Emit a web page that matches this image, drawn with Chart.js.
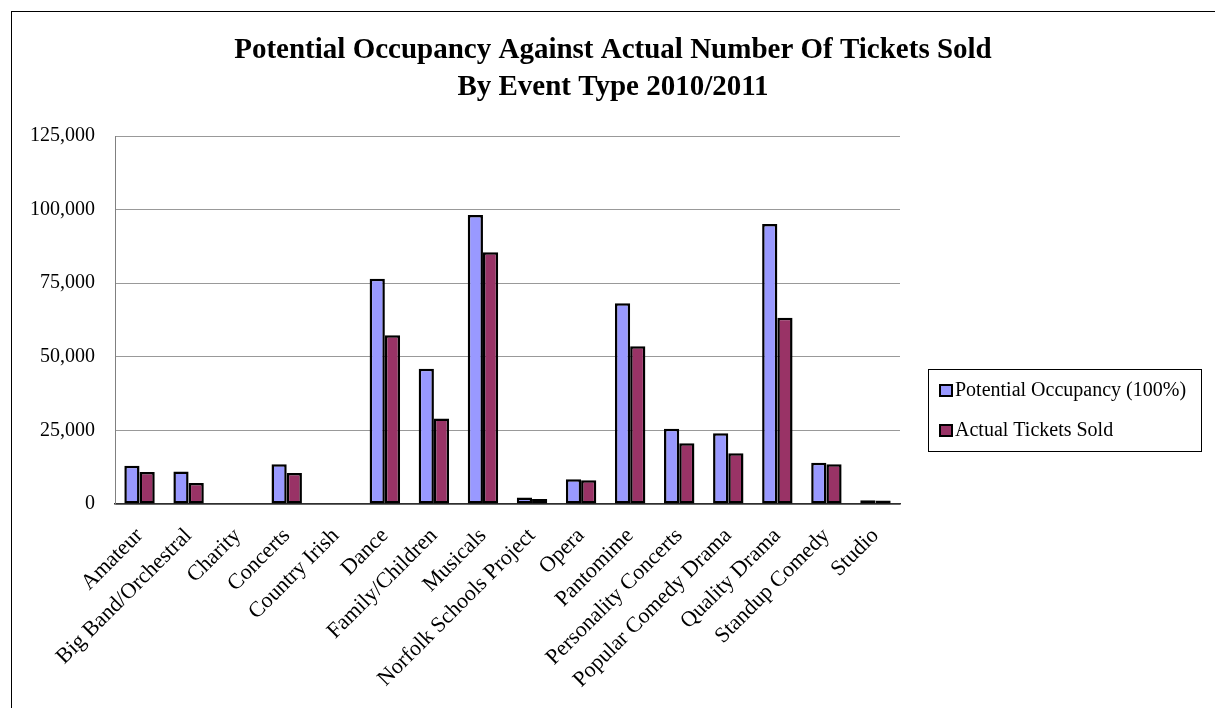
<!DOCTYPE html>
<html>
<head>
<meta charset="utf-8">
<title>Tickets by event type</title>
<script src="https://cdn.jsdelivr.net/npm/chart.js@4.4.0/dist/chart.umd.min.js"></script>
<style>
  html, body { margin: 0; padding: 0; background: #fff; }
</style>
</head>
<body>
<canvas id="ticketChart" width="1215" height="708"></canvas>
<script>
// data
const eventTypes = [
  "Amateur", "Big Band/Orchestral", "Charity", "Concerts", "Country Irish",
  "Dance", "Family/Children", "Musicals", "Norfolk Schools Project", "Opera",
  "Pantomime", "Personality Concerts", "Popular Comedy Drama", "Quality Drama",
  "Standup Comedy", "Studio"
];
const potentialOccupancy = [13000, 11000, null, 13500, null, 76500, 45900, 98200, 2200, 8400, 68200, 25600, 24000, 95100, 14000, 1300];
const actualTickets = [10900, 7100, null, 10500, null, 57300, 29000, 85500, 1700, 8100, 53600, 20600, 17200, 63300, 13500, 1200];
const yTicks = [0, 25000, 50000, 75000, 100000, 125000];

const chartTitle = [
  "Potential Occupancy Against Actual Number Of Tickets Sold",
  "By Event Type 2010/2011"
];

const serif = "'Liberation Serif', 'Times New Roman', serif";

// frame, title and boxed legend drawn by hand
const framePlugin = {
  id: "frame",
  beforeDraw(chart) {
    const ctx = chart.ctx;
    ctx.save();
    ctx.fillStyle = "#fff";
    ctx.fillRect(0, 0, chart.width, chart.height);
    ctx.strokeStyle = "#000";
    ctx.lineWidth = 1;
    ctx.strokeRect(11.5, 11.5, chart.width + 20, chart.height + 20);

    ctx.fillStyle = "#000";
    ctx.font = "bold 29px " + serif;
    ctx.textAlign = "center";
    ctx.textBaseline = "middle";
    ctx.fillText(chartTitle[0], 613, 51);
    ctx.fillText(chartTitle[1], 613, 88);
    ctx.restore();
  },
  afterDraw(chart) {
    const ctx = chart.ctx;
    ctx.save();
    ctx.strokeStyle = "#000";
    ctx.lineWidth = 1;
    ctx.strokeRect(928.5, 369.5, 273, 82);
    ctx.font = "20px " + serif;
    ctx.textAlign = "left";
    ctx.textBaseline = "middle";
    chart.data.datasets.forEach((ds, i) => {
      const cy = 391 + i * 40;
      ctx.fillStyle = ds.backgroundColor;
      ctx.fillRect(940, cy - 6, 12, 11);
      ctx.lineWidth = 2;
      ctx.strokeStyle = "#000";
      ctx.strokeRect(940, cy - 6, 12, 11);
      ctx.fillStyle = "#000";
      ctx.fillText(ds.label, 955, cy);
    });
    ctx.restore();
  }
};

const ctx = document.getElementById("ticketChart").getContext("2d");
const chart = new Chart(ctx, {
  type: "bar",
  data: {
    labels: eventTypes,
    datasets: [
      {
        label: "Potential Occupancy (100%)",
        data: potentialOccupancy,
        backgroundColor: "#9999FF",
        borderColor: "#000",
        borderWidth: 2.5,
        borderSkipped: false
      },
      {
        label: "Actual Tickets Sold",
        data: actualTickets,
        backgroundColor: "#993366",
        borderColor: "#000",
        borderWidth: 2.5,
        borderSkipped: false
      }
    ]
  },
  options: {
    responsive: false,
    animation: false,
    events: [],
    categoryPercentage: 0.62,
    barPercentage: 1.0,
    layout: {
      padding: { left: 11, top: 136, right: 315, bottom: 0 }
    },
    plugins: {
      legend: { display: false },
      title: { display: false },
      tooltip: { enabled: false }
    },
    scales: {
      x: {
        afterFit: s => { s.height = 204; },
        grid: { display: false, drawTicks: false },
        border: { color: "#303030", width: 1.5 },
        ticks: {
          autoSkip: false,
          minRotation: 45,
          maxRotation: 45,
          padding: 19,
          color: "#000",
          font: { family: serif, size: 22 }
        }
      },
      y: {
        min: 0,
        max: 125000,
        afterFit: s => { s.width = 104; },
        afterBuildTicks: s => { s.ticks = yTicks.map(v => ({ value: v })); },
        grid: { color: "#999", drawTicks: false },
        border: { color: "#808080", width: 1 },
        ticks: {
          padding: 20,
          color: "#000",
          font: { family: serif, size: 20 },
          callback: v => v.toLocaleString("en-US")
        }
      }
    }
  },
  plugins: [framePlugin]
});
</script>
</body>
</html>
